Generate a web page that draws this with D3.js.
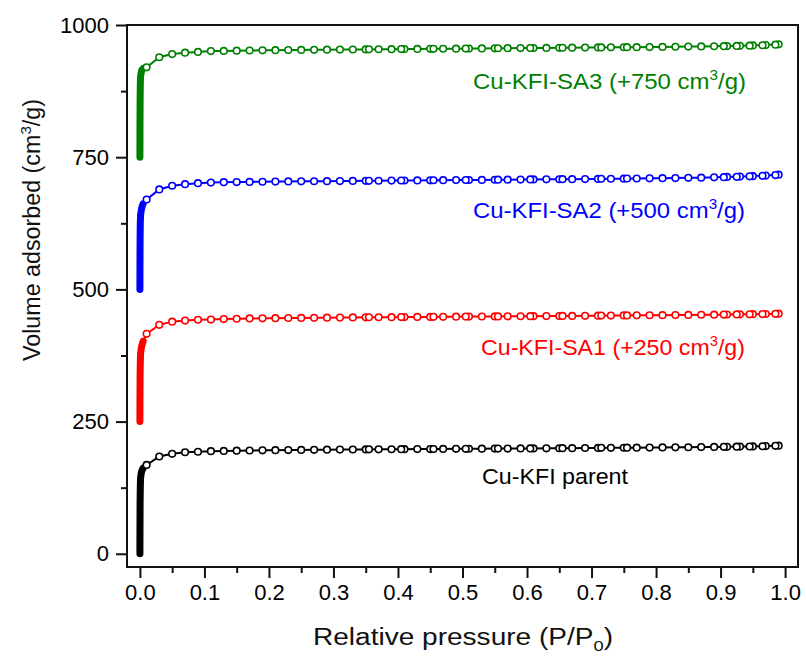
<!DOCTYPE html>
<html>
<head>
  <title>N2 isotherms</title>
  <script src="https://d3js.org/d3.v7.min.js"></script>
  <style>
    body { margin: 0; background: #fff; }
    text { font-family: "Liberation Sans", Arial, sans-serif; }
  </style>
</head>
<body>
<div id="chart"></div>
<script type="text/javascript">

// low pressure part (micropore filling), drawn as a solid bar
var pLow = [0.00002, 0.0001, 0.0003, 0.0006, 0.001, 0.002, 0.003, 0.005];
// adsorption points with markers
var pAds = [0.0104,0.03,0.05,0.07,0.09,0.11,0.13,0.15,0.17,0.19,0.21,0.23,0.25,0.27,0.29,0.31,0.33,0.35,0.37,0.39,
            0.41,0.43,0.45,0.47,0.49,0.51,0.53,0.55,0.57,0.59,0.61,0.63,0.65,0.67,0.69,0.71,0.73,0.75,0.77,0.79,
            0.81,0.83,0.85,0.87,0.89,0.91,0.93,0.95,0.97,0.99];
// desorption points (overlapping circles)
var pDes = [0.985,0.965,0.945,0.925,0.905,0.755,0.715,0.655,0.605,0.555,0.505,0.455,0.405,0.355];

var names   = ["Cu-KFI parent", "Cu-KFI-SA1", "Cu-KFI-SA2", "Cu-KFI-SA3"];
var offsets = [0, 250, 500, 750];
var colors  = ["#000000", "#ff0000", "#0000ff", "#008000"];

var parentLow = [0, 45, 95, 125, 143, 152, 157, 162];
var sa1Low    = [0, 40, 85, 110, 128, 138, 144, 152];
var sa2Low    = [0, 45, 95, 125, 140, 149, 155, 162];
var sa3Low    = [0, 50, 105, 135, 152, 160, 165, 168];

var parentAds = [168,184,189,192,193,194,194.5,195,195.3,195.6,195.9,196.2,196.4,196.6,196.8,197,197.2,197.4,197.5,197.7,
                 197.8,198,198.1,198.3,198.4,198.6,198.7,198.9,199,199.2,199.3,199.5,199.6,199.8,200,200.1,200.3,200.5,200.7,200.9,
                 201.1,201.3,201.5,201.8,202,202.3,202.7,203.1,203.7,204.5];
var sa1Ads    = [166,183,189,191,192.6,193,193.8,194.5,195,195.3,195.6,195.9,196.1,196.3,196.5,196.7,196.9,197.1,197.3,197.5,
                 197.7,197.9,198,198.2,198.4,198.5,198.7,198.9,199,199.2,199.4,199.5,199.7,199.9,200.1,200.3,200.5,200.7,200.9,201.1,
                 201.3,201.5,201.7,202,202.2,202.5,202.8,203.1,203.5,204];
var sa2Ads    = [170,189,196,199,200.8,202,202.7,203,203.3,203.6,203.9,204.1,204.3,204.5,204.7,204.9,205.1,205.3,205.5,205.7,
                 205.9,206.1,206.3,206.5,206.7,206.9,207.1,207.3,207.5,207.7,207.9,208.1,208.3,208.5,208.7,208.9,209.2,209.4,209.7,210,
                 210.3,210.6,210.9,211.3,212,212.6,213.3,214.2,215.3,217];
var sa3Ads    = [170,189,195,197.6,199,200.7,201,201.5,201.8,202.1,202.4,202.7,202.9,203.1,203.3,203.5,203.7,203.9,204.1,204.3,
                 204.5,204.7,204.9,205.1,205.3,205.5,205.7,205.9,206.1,206.3,206.5,206.7,206.9,207.1,207.3,207.5,207.7,207.9,208.1,208.3,
                 208.6,208.9,209.2,209.5,209.8,210.2,210.7,211.3,212.1,213.5];

var parentDes = [204.2,203.4,202.9,202.5,202.2,200.7,200.3,199.7,199.3,198.9,198.5,198.2,197.9,197.5];
var sa1Des    = [203.8,203.3,202.9,202.6,202.3,200.8,200.4,199.8,199.4,198.9,198.5,198.1,197.7,197.3];
var sa2Des    = [216.2,214.8,213.8,212.9,212.3,209.7,209.2,208.4,207.9,207.4,206.9,206.4,205.9,205.4];
var sa3Des    = [212.8,211.7,210.9,210.4,210,208,207.6,207,206.5,206,205.5,205,204.5,204];

var lowSets = [parentLow, sa1Low, sa2Low, sa3Low];
var adsSets = [parentAds, sa1Ads, sa2Ads, sa3Ads];
var desSets = [parentDes, sa1Des, sa2Des, sa3Des];

var xTicks = [0, 0.1, 0.2, 0.3, 0.4, 0.5, 0.6, 0.7, 0.8, 0.9, 1.0];
var yTicks = [0, 250, 500, 750, 1000];

var W = 806, H = 660;
var svg = d3.select("#chart").append("svg").attr("width", W).attr("height", H);

var x = d3.scaleLinear().domain([-0.02, 1.02]).range([127, 798]);
var y = d3.scaleLinear().domain([-25, 1000]).range([567, 25]);

// minor ticks
var xMinor = d3.range(0.05, 1.0, 0.1);
var yMinor = [125, 375, 625, 875];

svg.append("g").attr("transform", "translate(0,567)")
  .call(d3.axisBottom(x).tickValues(xMinor).tickSize(6).tickFormat(""))
  .call(function(g){ g.select(".domain").remove(); g.selectAll("line").attr("stroke-width", 2).attr("stroke", "#111"); });
svg.append("g").attr("transform", "translate(127,0)")
  .call(d3.axisLeft(y).tickValues(yMinor).tickSize(6).tickFormat(""))
  .call(function(g){ g.select(".domain").remove(); g.selectAll("line").attr("stroke-width", 2).attr("stroke", "#111"); });

var xAxis = svg.append("g").attr("transform", "translate(0,567)")
  .call(d3.axisBottom(x).tickValues(xTicks).tickSize(11).tickPadding(6).tickFormat(d3.format(".1f")));
xAxis.select(".domain").remove();
xAxis.selectAll("line").attr("stroke-width", 2).attr("stroke", "#111");
xAxis.selectAll("text").attr("font-size", 22).attr("fill", "#000")
  .attr("font-family", "Liberation Sans, Arial, sans-serif");

var yAxis = svg.append("g").attr("transform", "translate(127,0)")
  .call(d3.axisLeft(y).tickValues(yTicks).tickSize(11).tickPadding(7).tickFormat(d3.format("d")));
yAxis.select(".domain").remove();
yAxis.selectAll("line").attr("stroke-width", 2).attr("stroke", "#111");
yAxis.selectAll("text").attr("font-size", 22).attr("fill", "#000")
  .attr("font-family", "Liberation Sans, Arial, sans-serif");

// frame
svg.append("rect").attr("x", 127).attr("y", 25).attr("width", 671).attr("height", 542)
  .attr("fill", "none").attr("stroke", "#111").attr("stroke-width", 2);

var line = d3.line().x(function(d){ return x(d[0]); }).y(function(d){ return y(d[1]); });

for (var s = 0; s < 4; s++) {
  var off = offsets[s];
  var low = pLow.map(function(p, i){ return [p, lowSets[s][i] + off]; });
  var ads = pAds.map(function(p, i){ return [p, adsSets[s][i] + off]; });
  var des = pDes.map(function(p, i){ return [p, desSets[s][i] + off]; });
  var g = svg.append("g");

  g.append("path").datum(low.concat(ads)).attr("d", line)
    .attr("fill", "none").attr("stroke", colors[s]).attr("stroke-width", 2);
  g.append("path").datum(low).attr("d", line)
    .attr("fill", "none").attr("stroke", colors[s]).attr("stroke-width", 7)
    .attr("stroke-linecap", "round").attr("stroke-linejoin", "round");

  g.selectAll("circle.ads").data(ads.concat(des)).enter().append("circle")
    .attr("cx", function(d){ return x(d[0]); })
    .attr("cy", function(d){ return y(d[1]); })
    .attr("r", 3.3)
    .attr("fill", "#fff").attr("stroke", colors[s]).attr("stroke-width", 1.6);
}

// series labels
var labels = [
  {t: "Cu-KFI parent", sup: null, x: 482, y: 484, w: 146},
  {t: "Cu-KFI-SA1 (+250 cm", sup: "3", after: "/g)", x: 481, y: 355, w: 264},
  {t: "Cu-KFI-SA2 (+500 cm", sup: "3", after: "/g)", x: 473, y: 218, w: 272},
  {t: "Cu-KFI-SA3 (+750 cm", sup: "3", after: "/g)", x: 473, y: 89, w: 273}
];
labels.forEach(function(l, i){
  var t = svg.append("text").attr("x", l.x).attr("y", l.y)
    .attr("font-size", 22).attr("fill", colors[i])
    .attr("textLength", l.w).attr("lengthAdjust", "spacingAndGlyphs");
  t.append("tspan").text(l.t);
  if (l.sup) {
    t.append("tspan").attr("dy", -9).attr("font-size", 14).text(l.sup);
    t.append("tspan").attr("dy", 9).text(l.after);
  }
});

// axis titles
var xt = svg.append("text").attr("x", 313).attr("y", 645)
  .attr("font-size", 23).attr("fill", "#111")
  .attr("textLength", 300).attr("lengthAdjust", "spacingAndGlyphs");
xt.append("tspan").text("Relative pressure (P/P");
xt.append("tspan").attr("dy", 6).attr("font-size", 15).text("0");
xt.append("tspan").attr("dy", -6).text(")");

var yt = svg.append("text").attr("transform", "translate(40,361) rotate(-90)")
  .attr("font-size", 23).attr("fill", "#111")
  .attr("textLength", 262).attr("lengthAdjust", "spacingAndGlyphs");
yt.append("tspan").text("Volume adsorbed (cm");
yt.append("tspan").attr("dy", -9).attr("font-size", 15).text("3");
yt.append("tspan").attr("dy", 9).text("/g)");

</script>
</body>
</html>
